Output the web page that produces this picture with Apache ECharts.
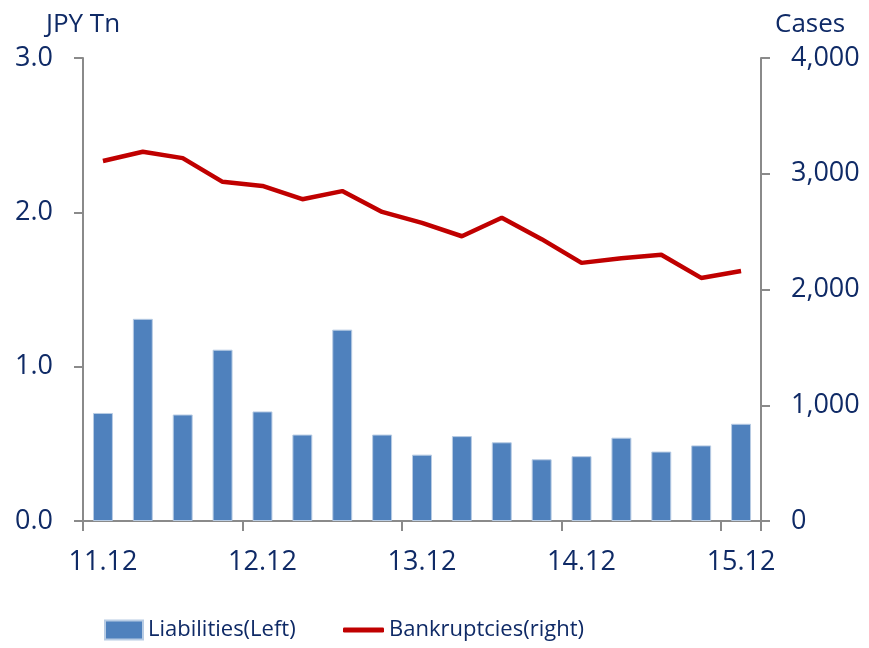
<!DOCTYPE html>
<html>
<head>
<meta charset="utf-8">
<script src="https://cdn.jsdelivr.net/npm/echarts@6/dist/echarts.min.js"></script>
<style>
  html, body { margin: 0; padding: 0; background: #fff; }
  #chart { width: 869px; height: 648px; }
</style>
</head>
<body>
<div id="chart"></div>
<script>
// quarterly, 2011.12 - 2015.12
var categories = ['11.12', '12.03', '12.06', '12.09', '12.12', '13.03', '13.06', '13.09', '13.12',
                  '14.03', '14.06', '14.09', '14.12', '15.03', '15.06', '15.09', '15.12'];
// liabilities, JPY trillion (left)
var liabilities = [0.70, 1.31, 0.69, 1.11, 0.71, 0.56, 1.24, 0.56, 0.43,
                   0.55, 0.51, 0.40, 0.42, 0.54, 0.45, 0.49, 0.63];
// bankruptcy cases (right)
var bankruptcies = [3110, 3190, 3135, 2930, 2895, 2780, 2850, 2670, 2575,
                    2460, 2620, 2435, 2230, 2270, 2300, 2100, 2160];

var leftTicks = { min: 0, max: 3, interval: 1 };
var rightTicks = { min: 0, max: 4000, interval: 1000 };

var textColor = '#0f2a66';
var axisColor = '#8a8a8a';
var fontFamily = '"Open Sans", "Liberation Sans", sans-serif';

var chart = echarts.init(document.getElementById('chart'));

var option = {
    animation: false,
    textStyle: { fontFamily: fontFamily, color: textColor },
    grid: { left: 83, right: 108, top: 58, bottom: 127, containLabel: false },
    legend: [
        {
            data: [{ name: 'Liabilities(Left)', icon: 'rect' }],
            left: 104, top: 619, padding: 0,
            itemWidth: 38, itemHeight: 19,
            textStyle: { fontSize: 22, color: textColor, fontFamily: fontFamily }
        },
        {
            data: [{ name: 'Bankruptcies(right)', icon: 'roundRect' }],
            left: 343, top: 619, padding: 0,
            itemWidth: 41, itemHeight: 5,
            textStyle: { fontSize: 22, color: textColor, fontFamily: fontFamily }
        }
    ],
    xAxis: {
        type: 'category',
        data: categories,
        boundaryGap: true,
        axisLine: { lineStyle: { color: axisColor, width: 2 } },
        axisTick: { show: true, interval: 3, length: 10, lineStyle: { color: axisColor, width: 2 } },
        axisLabel: { interval: 3, margin: 28, fontSize: 27, color: textColor }
    },
    yAxis: [
        {
            type: 'value',
            min: leftTicks.min, max: leftTicks.max, interval: leftTicks.interval,
            name: 'JPY Tn',
            nameLocation: 'end',
            nameGap: 20,
            nameTextStyle: { fontSize: 26, color: textColor, align: 'center' },
            splitLine: { show: false },
            axisLine: { show: true, lineStyle: { color: axisColor, width: 2 } },
            axisTick: { show: true, length: 9, lineStyle: { color: axisColor, width: 2 } },
            axisLabel: {
                margin: 30, fontSize: 27, color: textColor,
                formatter: function (v) { return v.toFixed(1); }
            }
        },
        {
            type: 'value',
            min: rightTicks.min, max: rightTicks.max, interval: rightTicks.interval,
            name: 'Cases',
            nameLocation: 'end',
            nameGap: 20,
            nameTextStyle: { fontSize: 26, color: textColor, align: 'left', padding: [0, 0, 0, 14] },
            splitLine: { show: false },
            axisLine: { show: true, lineStyle: { color: axisColor, width: 2 } },
            axisTick: { show: true, length: 9, lineStyle: { color: axisColor, width: 2 } },
            axisLabel: {
                margin: 30, fontSize: 27, color: textColor,
                formatter: function (v) { return v.toLocaleString('en-US'); }
            }
        }
    ],
    series: [
        {
            name: 'Liabilities(Left)',
            type: 'bar',
            yAxisIndex: 0,
            barWidth: '50%',
            data: liabilities,
            itemStyle: { color: '#4f81bd', borderColor: '#b8cce4', borderWidth: 1 }
        },
        {
            name: 'Bankruptcies(right)',
            type: 'line',
            yAxisIndex: 1,
            data: bankruptcies,
            symbol: 'none',
            lineStyle: { color: '#c00000', width: 4.5 },
            itemStyle: { color: '#c00000' }
        }
    ]
};

chart.setOption(option);
</script>
</body>
</html>
